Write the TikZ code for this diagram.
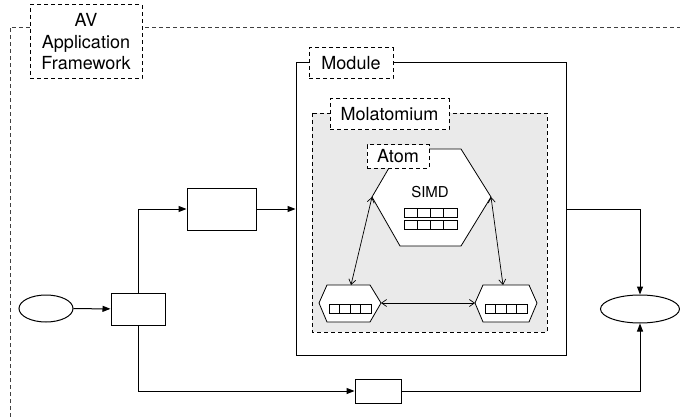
\documentclass[tikz,border=0pt]{standalone}
\usepackage{fontspec}
\setmainfont{TeX Gyre Heros}
\usepackage{tikz}
\usetikzlibrary{arrows.meta, shapes.geometric}
\definecolor{molgray}{HTML}{EAEAEA}
\tikzset{
  lbl/.style={draw, dash pattern=on 4pt off 3pt, fill=white, inner sep=0pt, align=center},
  blk/.style={draw, fill=white, inner sep=0pt},
  oval/.style={draw, ellipse, fill=white, inner sep=0pt},
  flow/.style={-{Triangle[length=8pt,width=6pt]}},
  link/.style={{Straight Barb[length=5pt,width=7pt]}-{Straight Barb[length=5pt,width=7pt]}, line width=0.7pt}
}
\newcommand{\simdrow}[3]{%
  \foreach \i in {0,...,3} \draw[line width=0.8pt] ({#1+\i*#3},#2) rectangle ++(#3,9);}

\begin{document}
\begin{tikzpicture}[x=1pt, y=-1pt, line width=1pt, font=\fontsize{18pt}{21.5pt}\selectfont]
\useasboundingbox (0,0) rectangle (680,417);
\draw[dash pattern=on 4pt off 3pt, line width=0.8pt, black!75] (10,417) -- (10,27) -- (680,27);
\node[lbl, minimum width=112pt, minimum height=74pt] (frame) at (86,42) {AV\\Application\\Framework};

\node[blk, minimum width=270pt, minimum height=292pt] (module) at (431,209) {};
\node[lbl, minimum width=84pt, minimum height=31pt] (modlbl) at (351,63.5) {Module};
\draw[dash pattern=on 4pt off 3pt, line width=0.8pt, fill=molgray] (312,113) rectangle (547,332);
\node[lbl, minimum width=119pt, minimum height=31pt] (mollbl) at (389.5,114.5) {Molatomium};

\draw[fill=white, line width=0.8pt] (400,149) -- (461,149) -- (491,197) coordinate (atomR)
  -- (461,246) -- (400,246) -- (372,197) coordinate (atomL) -- cycle;
\node[font=\fontsize{15pt}{18pt}\selectfont] (simd) at (430,192) {SIMD};
\simdrow{404}{208}{13.25}
\simdrow{404}{220}{13.25}
\node[lbl, minimum width=62pt, minimum height=23pt] (atom) at (398,156.5) {Atom};

\draw[fill=white, line width=0.8pt] (327,285) -- (370,285) -- (381,303) coordinate (coreLe)
  -- (370,322) -- (327,322) -- (319,303) -- cycle;
\simdrow{329}{304}{10.5}
\draw[fill=white, line width=0.8pt] (483,285) -- (529,285) -- (537,303)
  -- (529,322) -- (483,322) -- (475,303) coordinate (coreRw) -- cycle;
\simdrow{485}{304}{10.5}
\coordinate (coreLtop) at (351,285);
\coordinate (coreRtop) at (503,285);
\draw[link] (atomL) -- (coreLtop);
\draw[link] (atomR) -- (coreRtop);
\draw[link] (coreLe) -- (coreRw);

\node[oval, minimum width=54pt, minimum height=27pt] (src) at (46,308.5) {};
\node[blk, minimum width=54pt, minimum height=32pt] (split) at (138,309) {};
\node[blk, minimum width=69pt, minimum height=42pt] (upper) at (221.5,209) {};
\node[blk, minimum width=46pt, minimum height=24pt] (lower) at (378,391) {};
\node[oval, minimum width=79pt, minimum height=28pt] (sink) at (640,309) {};

\draw[flow] (src) -- (split);
\draw[flow] (split.north) |- (upper.west);
\draw[flow] (upper.east) -- (module.west);
\draw[flow] (module.east) -| (sink.north);
\draw[flow] (split.south) |- (lower.west);
\draw[flow] (lower.east) -| (sink.south);
\end{tikzpicture}
\end{document}
